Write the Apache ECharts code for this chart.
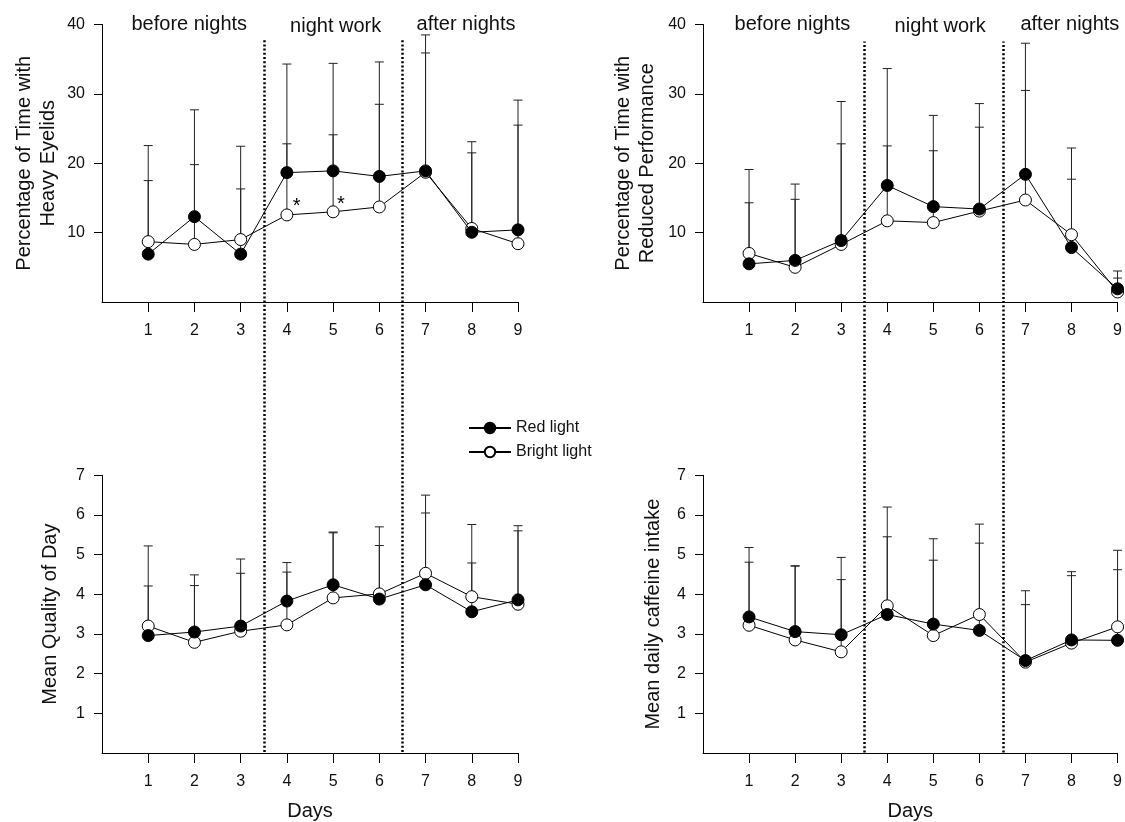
<!DOCTYPE html>
<html>
<head>
<meta charset="utf-8">
<script src="https://cdn.jsdelivr.net/npm/echarts@6/dist/echarts.min.js"></script>
<style>
  html, body { margin: 0; padding: 0; background: #fff; }
  #main { width: 1125px; height: 822px; }
</style>
</head>
<body>
<div id="main"></div>
<script>
// day numbers on the x axis
const days = [1, 2, 3, 4, 5, 6, 7, 8, 9]

// Percentage of time with heavy eyelids
const eyelidsRed = [6.9, 12.3, 6.9, 18.65, 18.9, 18.1, 18.9, 10.05, 10.4]
const eyelidsBright = [8.7, 8.3, 9.0, 12.55, 13.0, 13.7, 18.7, 10.6, 8.4]
const eyelidsRedUpper = [22.55, 27.7, 22.45, 34.3, 34.4, 34.6, 38.5, 23.1, 29.1]
const eyelidsBrightUpper = [17.5, 19.8, 16.3, 22.8, 24.1, 28.5, 35.9, 21.5, 25.5]

// Percentage of time with reduced performance
const perfRed = [5.5, 6.0, 8.85, 16.8, 13.75, 13.4, 18.4, 7.85, 1.9]
const perfBright = [7.0, 5.0, 8.3, 11.7, 11.45, 13.1, 14.7, 9.7, 1.45]
const perfRedUpper = [19.1, 17.0, 28.9, 33.65, 26.9, 28.6, 37.3, 22.2, 4.47]
const perfBrightUpper = [14.3, 14.8, 22.8, 22.5, 21.8, 25.2, 30.5, 17.7, 3.45]

// Mean quality of day
const qualityRed = [2.96, 3.05, 3.2, 3.83, 4.24, 3.88, 4.24, 3.56, 3.86]
const qualityBright = [3.2, 2.79, 3.07, 3.23, 3.91, 4.01, 4.53, 3.94, 3.75]
const qualityRedUpper = [5.22, 4.49, 4.89, 4.8, 5.57, 5.7, 6.5, 5.76, 5.73]
const qualityBrightUpper = [4.21, 4.22, 4.53, 4.56, 5.55, 5.23, 6.05, 4.79, 5.6]

// Mean daily caffeine intake
const caffeineRed = [3.43, 3.06, 2.98, 3.49, 3.25, 3.09, 2.33, 2.85, 2.84]
const caffeineBright = [3.22, 2.85, 2.55, 3.71, 2.96, 3.49, 2.29, 2.77, 3.18]
const caffeineRedUpper = [5.18, 4.72, 4.93, 6.2, 5.4, 5.77, 4.09, 4.57, 5.11]
const caffeineBrightUpper = [4.81, 4.71, 4.37, 5.45, 4.86, 5.29, 3.74, 4.47, 4.62]

const percentTicks = [10, 20, 30, 40]
const scaleTicks = [1, 2, 3, 4, 5, 6, 7]
const phaseBounds = [3.5, 6.5]
const phaseNames = ['before nights', 'night work', 'after nights']

const FONT = 'Liberation Sans, Arial, sans-serif'
const chart = echarts.init(document.getElementById('main'))

const panels = [
  { name: 'Percentage of Time with\nHeavy Eyelids', max: 40, ticks: percentTicks, red: eyelidsRed, bright: eyelidsBright, redUp: eyelidsRedUpper, brightUp: eyelidsBrightUpper, gap: 42 },
  { name: 'Percentage of Time with\nReduced Performance', max: 40, ticks: percentTicks, red: perfRed, bright: perfBright, redUp: perfRedUpper, brightUp: perfBrightUpper, gap: 44 },
  { name: 'Mean Quality of Day', max: 7, ticks: scaleTicks, red: qualityRed, bright: qualityBright, redUp: qualityRedUpper, brightUp: qualityBrightUpper, gap: 40, days: true },
  { name: 'Mean daily caffeine intake', max: 7, ticks: scaleTicks, red: caffeineRed, bright: caffeineBright, redUp: caffeineRedUpper, brightUp: caffeineBrightUpper, gap: 38, days: true }
]

const grids = [
  { left: 102, right: 607, top: 24.5, height: 277.5 },
  { left: 703, right: 6.5, top: 24.5, height: 277.5 },
  { left: 102, right: 607, top: 475.3, height: 278 },
  { left: 703, right: 6.5, top: 475.3, height: 278 },
  // hidden grids carrying the dotted phase lines
  { left: 102, right: 607, top: 40, height: 712 },
  { left: 703, right: 6.5, top: 41.5, height: 711 }
]

const xAxes = []
const yAxes = []
const series = []

const errorBar = (params, api) => {
  const base = api.coord([api.value(0), api.value(1)])
  const top = api.coord([api.value(0), api.value(2)])
  const style = { stroke: '#222', lineWidth: 1 }
  return {
    type: 'group',
    children: [
      { type: 'line', shape: { x1: base[0], y1: base[1], x2: top[0], y2: top[1] }, style },
      { type: 'line', shape: { x1: top[0] - 4.5, y1: top[1], x2: top[0] + 4.5, y2: top[1] }, style }
    ]
  }
}

panels.forEach((p, i) => {
  xAxes.push({
    type: 'value', gridIndex: i, min: 0, max: 9, interval: 1,
    name: p.days ? 'Days' : '', nameLocation: 'middle', nameGap: 48,
    nameTextStyle: { fontFamily: FONT, fontSize: 20, color: '#111' },
    axisLine: { lineStyle: { color: '#000', width: 1 } },
    axisTick: { customValues: days, length: 10, lineStyle: { color: '#000' } },
    axisLabel: { customValues: days, margin: 21, fontFamily: FONT, fontSize: 16, color: '#111' },
    splitLine: { show: false }
  })
  yAxes.push({
    type: 'value', gridIndex: i, min: 0, max: p.max,
    name: p.name, nameLocation: 'middle', nameGap: p.gap, nameRotate: 90,
    nameTextStyle: { fontFamily: FONT, fontSize: 20, color: '#111', lineHeight: 24 },
    axisLine: { show: true, lineStyle: { color: '#000', width: 1 } },
    axisTick: { show: true, customValues: p.ticks, length: 8, lineStyle: { color: '#000' } },
    axisLabel: { customValues: p.ticks, margin: 17, fontFamily: FONT, fontSize: 16, color: '#111' },
    splitLine: { show: false }
  })
  series.push({
    type: 'custom', xAxisIndex: i, yAxisIndex: i, z: 1, clip: false,
    renderItem: errorBar,
    data: days.map((d, k) => [d, p.red[k], p.redUp[k]])
  })
  series.push({
    type: 'custom', xAxisIndex: i, yAxisIndex: i, z: 1, clip: false,
    renderItem: errorBar,
    data: days.map((d, k) => [d, p.bright[k], p.brightUp[k]])
  })
  series.push({
    name: 'Bright light', type: 'line', xAxisIndex: i, yAxisIndex: i, z: 3,
    data: days.map((d, k) => [d, p.bright[k]]),
    symbol: 'circle', symbolSize: 12,
    lineStyle: { color: '#000', width: 1 },
    itemStyle: { color: '#fff', borderColor: '#000', borderWidth: 1 },
    markPoint: i === 0 ? {
      symbol: 'circle', symbolSize: 1, silent: true,
      itemStyle: { color: 'rgba(0,0,0,0)' },
      label: { show: true, position: 'inside', formatter: '*', fontFamily: FONT, fontSize: 20, color: '#000' },
      data: [{ coord: [4.21, 13.7] }, { coord: [5.17, 14.1] }]
    } : undefined
  })
  series.push({
    name: 'Red light', type: 'line', xAxisIndex: i, yAxisIndex: i, z: 4,
    data: days.map((d, k) => [d, p.red[k]]),
    symbol: 'circle', symbolSize: 12,
    lineStyle: { color: '#000', width: 1 },
    itemStyle: { color: '#000', borderColor: '#000', borderWidth: 1 }
  })
})

// phase separators
;[4, 5].forEach(g => {
  xAxes.push({ type: 'value', gridIndex: g, min: 0, max: 9, show: false })
  yAxes.push({ type: 'value', gridIndex: g, min: 0, max: 1, show: false })
  series.push({
    type: 'line', xAxisIndex: g, yAxisIndex: g, data: [[0, 0]], showSymbol: false,
    lineStyle: { width: 0 }, silent: true,
    markLine: {
      symbol: 'none', silent: true, label: { show: false },
      lineStyle: { color: '#000', width: 2.5, type: [2, 2.2] },
      data: phaseBounds.map(b => ({ xAxis: b }))
    }
  })
})

const phaseLabels = (xs, ys) => phaseNames.map((t, k) => ({
  type: 'text', x: xs[k], y: ys[k],
  style: { text: t, fontFamily: FONT, fontSize: 20, fill: '#111', align: 'center', verticalAlign: 'middle' }
}))

chart.setOption({
  animation: false,
  backgroundColor: '#fff',
  grid: grids,
  xAxis: xAxes,
  yAxis: yAxes,
  legend: {
    data: ['Red light', 'Bright light'],
    orient: 'vertical', left: 468, top: 420, padding: 0,
    itemWidth: 42, itemHeight: 13, itemGap: 8,
    textStyle: { fontFamily: FONT, fontSize: 16, color: '#111' },
    selectedMode: false
  },
  graphic: [
    ...phaseLabels([189.3, 335.7, 466], [24, 26.7, 24]),
    ...phaseLabels([792.4, 940.2, 1069.9], [24, 26.7, 24])
  ],
  series
})
</script>
</body>
</html>
